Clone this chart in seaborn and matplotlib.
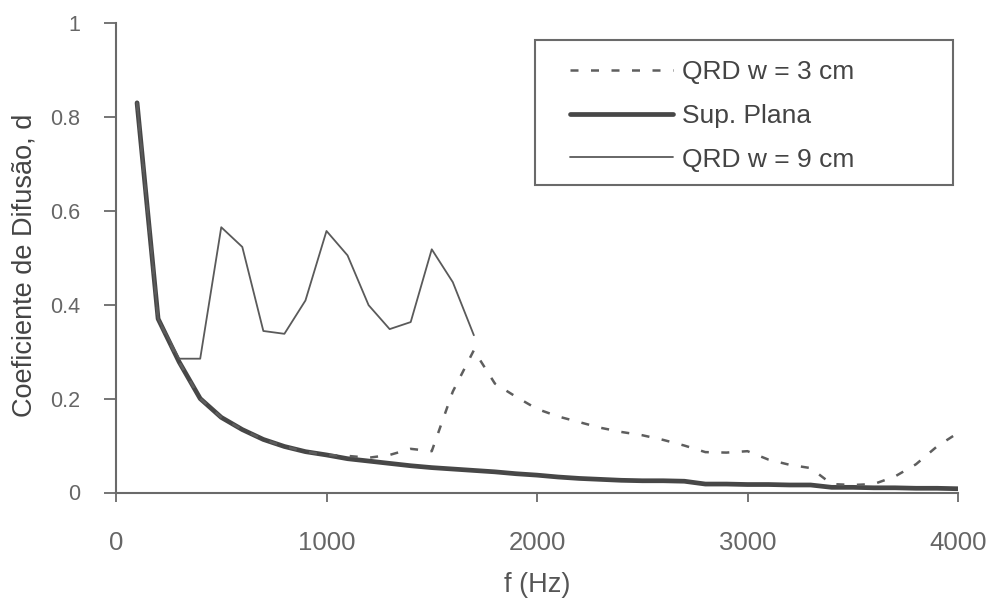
import matplotlib
matplotlib.use("Agg")
import matplotlib.pyplot as plt
from matplotlib.patches import Rectangle
from matplotlib.ticker import FuncFormatter
import seaborn as sns
import pandas as pd

# ---- data ----
freq = [100, 200, 300, 400, 500, 600, 700, 800, 900, 1000,
        1100, 1200, 1300, 1400, 1500, 1600, 1700, 1800, 1900, 2000,
        2100, 2200, 2300, 2400, 2500, 2600, 2700, 2800, 2900, 3000,
        3100, 3200, 3300, 3400, 3500, 3600, 3700, 3800, 3900, 4000]

sup_plana = [0.830, 0.370, 0.278, 0.200, 0.160, 0.134, 0.113, 0.098, 0.087, 0.080,
             0.072, 0.067, 0.062, 0.057, 0.053, 0.050, 0.047, 0.044, 0.040, 0.037,
             0.033, 0.030, 0.028, 0.026, 0.025, 0.025, 0.024, 0.018, 0.018, 0.017,
             0.017, 0.016, 0.016, 0.011, 0.011, 0.010, 0.010, 0.009, 0.009, 0.008]

qrd_w3 = [0.830, 0.370, 0.278, 0.200, 0.160, 0.134, 0.113, 0.098, 0.087, 0.080,
          0.078, 0.074, 0.080, 0.093, 0.088, 0.215, 0.303, 0.232, 0.204, 0.178,
          0.162, 0.150, 0.138, 0.129, 0.122, 0.112, 0.100, 0.086, 0.085, 0.088,
          0.070, 0.059, 0.052, 0.018, 0.016, 0.018, 0.034, 0.060, 0.098, 0.127]

freq_w9 = [100, 200, 300, 400, 500, 600, 700, 800, 900, 1000,
           1100, 1200, 1300, 1400, 1500, 1600, 1700]
qrd_w9 = [0.830, 0.370, 0.285, 0.285, 0.565, 0.523, 0.344, 0.338, 0.409, 0.557,
          0.505, 0.399, 0.348, 0.363, 0.518, 0.448, 0.335]

series_labels = ["QRD w = 3 cm", "Sup. Plana", "QRD w = 9 cm"]
x_ticks = [0, 1000, 2000, 3000, 4000]
y_ticks = [0, 0.2, 0.4, 0.6, 0.8, 1.0]
x_label = "f (Hz)"
y_label = "Coeficiente de Difusão, d"

# ---- style ----
sns.set_style("ticks")
plt.rcParams["font.family"] = ["Liberation Sans", "DejaVu Sans"]

W, H = 992, 601
fig = plt.figure(figsize=(W / 100, H / 100), dpi=100)
fig.patch.set_facecolor("white")
x0, x1, ytop, ybot = 116, 958, 23, 492.5
ax = fig.add_axes([x0 / W, 1 - ybot / H, (x1 - x0) / W, (ybot - ytop) / H])

df3 = pd.DataFrame({"f": freq, "d": qrd_w3})
dfp = pd.DataFrame({"f": freq, "d": sup_plana})
df9 = pd.DataFrame({"f": freq_w9, "d": qrd_w9})

sns.lineplot(data=dfp, x="f", y="d", ax=ax, color="#474747", linewidth=3.4,
             label=series_labels[1], zorder=2)
sns.lineplot(data=df3, x="f", y="d", ax=ax, color="#5e5e5e", linewidth=1.8,
             linestyle=(0, (3.2, 5.0)), label=series_labels[0], zorder=3)
sns.lineplot(data=df9, x="f", y="d", ax=ax, color="#5a5a5a", linewidth=1.3,
             label=series_labels[2], zorder=4)

ax.set_xlim(0, 4000)
ax.set_ylim(0, 1)
ax.set_xticks(x_ticks)
ax.set_yticks(y_ticks)
ax.yaxis.set_major_formatter(FuncFormatter(lambda v, p: f"{v:g}"))

sns.despine(ax=ax)
spine_c = "#6a6a6a"
for s in ("left", "bottom"):
    ax.spines[s].set_color(spine_c)
    ax.spines[s].set_linewidth(1.5)

ax.tick_params(axis="y", direction="out", length=8.5, width=1.3, color=spine_c,
               labelsize=15.5, labelcolor="#666666", pad=17)
ax.tick_params(axis="x", direction="out", length=6.5, width=1.3, color=spine_c,
               labelsize=18.5, labelcolor="#666666", pad=21)

ax.set_xlabel(x_label, fontsize=19.5, color="#555555")
ax.set_ylabel(y_label, fontsize=19.5, color="#444444")
ax.xaxis.set_label_coords(0.5, (ybot - 572) / (ybot - ytop))
ax.yaxis.set_label_coords((38 - x0) / (x1 - x0), (ybot - 265) / (ybot - ytop))

# ---- legend ----
handles, labels = ax.get_legend_handles_labels()
order = [labels.index(l) for l in series_labels]
leg = ax.legend([handles[i] for i in order], [labels[i] for i in order],
                loc="upper left", bbox_to_anchor=(570 / W, 1 - 60 / H),
                bbox_transform=fig.transFigure, frameon=False, borderpad=0,
                borderaxespad=0, fontsize=19, labelspacing=0.75,
                handlelength=3.9, handletextpad=0.35)
for t in leg.get_texts():
    t.set_color("#444444")

fig.add_artist(Rectangle((535 / W, 1 - 185 / H), (953 - 535) / W, (185 - 40) / H,
                         transform=fig.transFigure, fill=False,
                         edgecolor="#6a6a6a", linewidth=1.5))

fig.savefig("out.png", dpi=100, facecolor="white")
